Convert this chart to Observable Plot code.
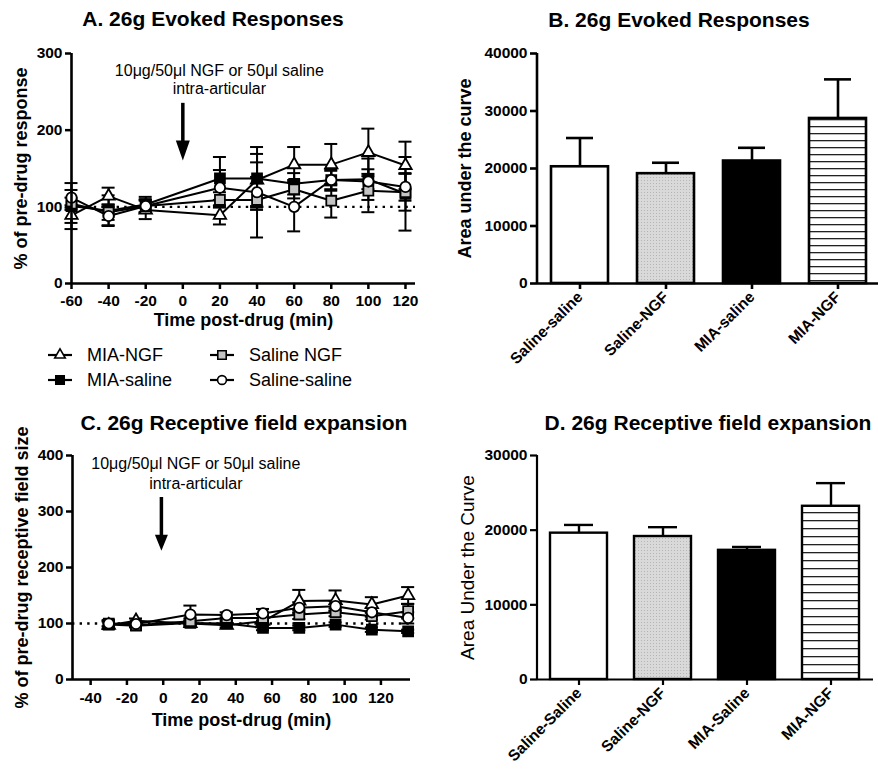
<!DOCTYPE html>
<html><head><meta charset="utf-8">
<script src="https://cdn.jsdelivr.net/npm/d3@7"></script>
<script src="https://cdn.jsdelivr.net/npm/@observablehq/plot@0.6"></script>
<style>
body{margin:0;background:#fff;overflow:hidden;font-family:"Liberation Sans",Arial,sans-serif;color:#000}
#root{position:relative;width:878px;height:771px;overflow:hidden;background:#fff}
.title{position:absolute;font-weight:bold;font-size:21px;line-height:21px;white-space:nowrap;transform:translateX(-50%)}
</style></head><body><div id="root"></div><script>
// ---------- data ----------
const groups = ["MIA-NGF", "MIA-saline", "Saline NGF", "Saline-saline"];

// Panel A: evoked responses (% of pre-drug response)
const timesA = [-60, -40, -20, 20, 40, 60, 80, 100, 120];
const aMiaNgf = [89, 114, 96, 89, 135, 155, 155, 171, 154];
const aMiaNgfErr = [10, 11, 12, 12, 34, 23, 27, 31, 31];
const aMiaSal = [101, 95, 103, 137, 137, 130, 135, 136, 117];
const aMiaSalErr = [30, 20, 10, 28, 41, 14, 12, 27, 48];
const aSalNgf = [104, 93, 101, 109, 109, 123, 108, 121, 119];
const aSalNgfErr = [8, 10, 9, 10, 49, 12, 22, 28, 24];
const aSalSal = [112, 88, 101, 125, 119, 100, 135, 133, 126];
const aSalSalErr = [10, 12, 8, 23, 20, 32, 14, 10, 18];

// Panel C: receptive field size (% of pre-drug)
const timesC = [-30, -15, 15, 35, 55, 75, 95, 115, 135];
const cMiaNgf = [97, 105, 100, 97, 104, 140, 141, 134, 150];
const cMiaNgfErr = [6, 4, 5, 4, 5, 20, 18, 13, 15];
const cMiaSal = [98, 96, 101, 100, 92, 92, 98, 89, 86];
const cMiaSalErr = [8, 3, 4, 3, 4, 4, 4, 4, 3];
const cSalNgf = [100, 97, 104, 110, 110, 116, 120, 113, 122];
const cSalNgfErr = [5, 3, 5, 4, 5, 8, 7, 6, 13];
const cSalSal = [100, 99, 116, 115, 118, 128, 131, 120, 110];
const cSalSalErr = [5, 4, 16, 5, 8, 10, 9, 8, 10];

// Panel B: area under the curve
const barLabelsB = ["Saline-saline", "Saline-NGF", "MIA-saline", "MIA-NGF"];
const aucB = [20300, 19100, 21300, 28700];
const aucBErr = [5000, 1900, 2300, 6800];

// Panel D: area under the curve
const barLabelsD = ["Saline-Saline", "Saline-NGF", "MIA-Saline", "MIA-NGF"];
const aucD = [19600, 19150, 17300, 23200];
const aucDErr = [1100, 1250, 450, 3100];

// tick labels
const ticksAx = [-60, -40, -20, 0, 20, 40, 60, 80, 100, 120];
const ticksAy = [0, 100, 200, 300];
const ticksCx = [-40, -20, 0, 20, 40, 60, 80, 100, 120];
const ticksCy = [0, 100, 200, 300, 400];
const ticksBy = [0, 10000, 20000, 30000, 40000];
const ticksDy = [0, 10000, 20000, 30000];

// annotation (data units)
const noteText = "10\u03bcg/50\u03bcl NGF or 50\u03bcl saline\nintra-articular";
const noteA = {x: 19.7, y: 266, from: 235, to: 160.4, at: 0};
const noteC = {x: 18, y: 370, from: 325, to: 230, at: -1};
const baselinePct = [100];

// ---------- helpers ----------
const FONT = "Liberation Sans, Arial, sans-serif";
const root = document.getElementById("root");
const fmt = d => String(d);
const styles = {
  "MIA-NGF": {symbol: "triangle", fill: "white", r: 4.6},
  "MIA-saline": {symbol: "square", fill: "black", r: 5.6},
  "Saline NGF": {symbol: "square", fill: "#c4c4c4", r: 5.6},
  "Saline-saline": {symbol: "circle", fill: "white", r: 5.2}
};
function place(el, left, top) {
  el.style.position = "absolute"; el.style.left = left + "px"; el.style.top = top + "px";
  root.appendChild(el);
}
function title(text, cx, top) {
  const d = document.createElement("div");
  d.className = "title"; d.textContent = text;
  d.style.left = cx + "px"; d.style.top = top + "px";
  root.appendChild(d);
}
function headSymbol(w, h) {
  return {draw(ctx) { ctx.moveTo(0, 0); ctx.lineTo(-w / 2, -h); ctx.lineTo(w / 2, -h); ctx.closePath(); }};
}
function rowsFor(times, vals, errs, g) {
  return times.map((t, i) => ({t, v: vals[i], lo: vals[i] - errs[i], hi: vals[i] + errs[i], g}));
}

function linePanel(cfg) {
  const rows = cfg.series.flatMap(s => rowsFor(cfg.times, s.vals, s.errs, s.name));
  const cap = cfg.cap;
  const marks = [
    Plot.ruleY(baselinePct, {stroke: "black", strokeWidth: 2.4, strokeDasharray: "2.4,5.2"}),
    Plot.ruleX(rows, {x: "t", y1: "lo", y2: "hi", strokeWidth: 2}),
    Plot.ruleY(rows, {y: "hi", x1: d => d.t - cap, x2: d => d.t + cap, strokeWidth: 2}),
    Plot.ruleY(rows, {y: "lo", x1: d => d.t - cap, x2: d => d.t + cap, strokeWidth: 2}),
    Plot.line(rows, {x: "t", y: "v", z: "g", stroke: "black", strokeWidth: 2}),
    ...groups.map(g => Plot.dot(rows.filter(r => r.g === g), {
      x: "t", y: "v", symbol: styles[g].symbol, r: styles[g].r, fill: styles[g].fill, stroke: "black", strokeWidth: 1.8
    })),
    Plot.ruleX([cfg.xDomain[0]], {strokeWidth: 2.6}),
    Plot.ruleY([0], {strokeWidth: 2.6}),
    Plot.axisY({ticks: cfg.yTicks, tickFormat: fmt, tickSize: 6, tickPadding: 3, strokeWidth: 2.5, fontSize: 15.5, fontWeight: "bold", label: null}),
    Plot.axisX({ticks: cfg.xTicks, tickFormat: fmt, tickSize: 6, tickPadding: cfg.xPad, strokeWidth: 2.5, fontSize: 15.5, fontWeight: "bold", label: null}),
    Plot.text([cfg.ylabel], {text: d => d, frameAnchor: "left", textAnchor: "middle", rotate: -90, dx: cfg.ylabelDx, fontSize: 18, fontWeight: "bold"}),
    Plot.text([cfg.xlabel], {text: d => d, frameAnchor: "bottom", textAnchor: "middle", dy: cfg.xlabelDy, fontSize: 18, fontWeight: "bold"}),
    Plot.text([cfg.note], {x: "x", y: "y", text: () => noteText, fontSize: 16, lineHeight: cfg.noteLH}),
    Plot.ruleX([cfg.note], {x: "at", y1: "from", y2: d => d.to + cfg.shaftGap, strokeWidth: 3.5}),
    Plot.dot([cfg.note], {x: "at", y: "to", symbol: headSymbol(cfg.headW, cfg.headH), fill: "black", stroke: "none"})
  ];
  return Plot.plot({
    width: cfg.width, height: cfg.height,
    marginLeft: cfg.ml, marginRight: cfg.mr, marginTop: cfg.mt, marginBottom: cfg.mb,
    x: {domain: cfg.xDomain},
    y: {domain: cfg.yDomain},
    style: {fontFamily: FONT, color: "black", background: "white", overflow: "visible"},
    marks
  });
}

function yAxisLine(sw) {
  return function (...args) {
    const dim = args.find(a => a && typeof a === "object" && "marginLeft" in a && "height" in a);
    const l = d3.create("svg:line")
      .attr("x1", dim.marginLeft).attr("x2", dim.marginLeft)
      .attr("y1", dim.marginTop).attr("y2", dim.height - dim.marginBottom)
      .attr("stroke", "black").attr("stroke-width", sw);
    return l.node();
  };
}

function barPanel(cfg) {
  const id = cfg.id;
  const fills = ["white", `url(#stip${id})`, "black", `url(#stripe${id})`];
  const rows = cfg.labels.map((l, i) => ({label: l, v: cfg.vals[i], hi: cfg.vals[i] + cfg.errs[i], fill: fills[i]}));
  const sw = cfg.sw;
  const svg = Plot.plot({
    width: cfg.width, height: cfg.height,
    marginLeft: cfg.ml, marginRight: cfg.mr, marginTop: cfg.mt, marginBottom: cfg.mb,
    x: {domain: cfg.labels, paddingInner: cfg.pi, paddingOuter: cfg.pi / 2},
    y: {domain: cfg.yDomain},
    color: {type: "identity"},
    style: {fontFamily: FONT, color: "black", background: "white", overflow: "visible"},
    marks: [
      Plot.ruleX(rows, {x: "label", y1: "v", y2: "hi", strokeWidth: sw}),
      Plot.tickY(rows, {x: "label", y: "hi", insetLeft: cfg.capInset, insetRight: cfg.capInset, strokeWidth: sw}),
      Plot.barY(rows, {x: "label", y: "v", fill: "fill", stroke: "black", strokeWidth: sw}),
      Plot.ruleY([0], {strokeWidth: cfg.axisSw}),
      yAxisLine(cfg.axisSw),
      Plot.axisY({ticks: cfg.yTicks, tickFormat: fmt, tickSize: 7, tickPadding: 3, strokeWidth: cfg.axisSw, fontSize: 15.5, fontWeight: "bold", label: null}),
      Plot.axisX({tickRotate: -45, tickSize: 6, tickPadding: 5, strokeWidth: cfg.axisSw, fontSize: 15.5, fontWeight: "bold", label: null}),
      Plot.text([cfg.ylabel], {text: d => d, frameAnchor: "left", textAnchor: "middle", rotate: -90, dx: cfg.ylabelDx, fontSize: cfg.ylabelSize, fontWeight: cfg.ylabelWeight})
    ]
  });
  const defs = d3.select(svg).insert("defs", ":first-child");
  const st = defs.append("pattern").attr("id", `stip${id}`).attr("patternUnits", "userSpaceOnUse").attr("width", 3).attr("height", 3);
  st.append("rect").attr("width", 3).attr("height", 3).attr("fill", "#d9d9d9");
  st.append("rect").attr("width", 1).attr("height", 1).attr("fill", "#b5b5b5");
  const sp = defs.append("pattern").attr("id", `stripe${id}`).attr("patternUnits", "userSpaceOnUse").attr("width", 10).attr("height", cfg.stripe);
  sp.append("rect").attr("width", 10).attr("height", cfg.stripe).attr("fill", "white");
  sp.append("rect").attr("width", 10).attr("height", 1.3).attr("fill", "#222");
  return svg;
}

// ---------- Panel A ----------
const seriesA = [
  {name: "Saline NGF", vals: aSalNgf, errs: aSalNgfErr},
  {name: "Saline-saline", vals: aSalSal, errs: aSalSalErr},
  {name: "MIA-saline", vals: aMiaSal, errs: aMiaSalErr},
  {name: "MIA-NGF", vals: aMiaNgf, errs: aMiaNgfErr}
];
place(linePanel({
  width: 440, height: 340, ml: 71, mr: 25, mt: 53, mb: 57,
  xDomain: [-60, 125.4], yDomain: [0, 300], xTicks: ticksAx, yTicks: ticksAy,
  times: timesA, series: seriesA, cap: 3.5, xPad: 5,
  ylabel: "% of pre-drug response", ylabelDx: -50,
  xlabel: "Time post-drug (min)", xlabelDy: 42,
  note: noteA, noteLH: 1.12, headW: 14, headH: 20, shaftGap: 14
}), 0, 0);
title("A. 26g Evoked Responses", 213, 8);

// ---------- Panel C ----------
const seriesC = [
  {name: "MIA-saline", vals: cMiaSal, errs: cMiaSalErr},
  {name: "Saline NGF", vals: cSalNgf, errs: cSalNgfErr},
  {name: "Saline-saline", vals: cSalSal, errs: cSalSalErr},
  {name: "MIA-NGF", vals: cMiaNgf, errs: cMiaNgfErr}
];
place(linePanel({
  width: 440, height: 371, ml: 72, mr: 30, mt: 55, mb: 92,
  xDomain: [-50, 136.3], yDomain: [0, 400], xTicks: ticksCx, yTicks: ticksCy,
  times: timesC, series: seriesC, cap: 3.6, xPad: 6,
  ylabel: "% of pre-drug receptive field size", ylabelDx: -50,
  xlabel: "Time post-drug (min)", xlabelDy: 46,
  note: noteC, noteLH: 1.25, headW: 13, headH: 16, shaftGap: 15
}), 0, 400);
title("C. 26g Receptive field expansion", 244, 412);

// ---------- Panel B ----------
place(barPanel({
  id: "B", width: 442, height: 390, ml: 97, mr: 1, mt: 53, mb: 107,
  labels: barLabelsB, vals: aucB, errs: aucBErr, yDomain: [0, 40000], yTicks: ticksBy,
  pi: 0.337, capInset: 15, sw: 2.6, axisSw: 2.6, stripe: 7,
  ylabel: "Area under the curve", ylabelDx: -72, ylabelSize: 18, ylabelWeight: "bold"
}), 440, 0);
title("B. 26g Evoked Responses", 679, 9);

// ---------- Panel D ----------
place(barPanel({
  id: "D", width: 442, height: 371, ml: 97, mr: 9, mt: 55, mb: 92,
  labels: barLabelsD, vals: aucD, errs: aucDErr, yDomain: [0, 30000], yTicks: ticksDy,
  pi: 0.32, capInset: 14, sw: 2.4, axisSw: 2.2, stripe: 8,
  ylabel: "Area Under the Curve", ylabelDx: -70, ylabelSize: 19, ylabelWeight: "normal"
}), 440, 400);
title("D. 26g Receptive field expansion", 708, 412);

// ---------- Legend ----------
(function legend() {
  const svg = d3.create("svg").attr("width", 440).attr("height", 60)
    .style("font-family", FONT);
  groups.forEach((g, i) => {
    const col = Math.floor(i / 2), row = i % 2;
    const x0 = col === 0 ? 48 : 210, y = 15 + row * 25;
    const gEl = svg.append("g").attr("transform", `translate(${x0},${y})`);
    gEl.append("line").attr("x1", 0).attr("x2", 24).attr("stroke", "black").attr("stroke-width", 2.2);
    const s = styles[g];
    const type = s.symbol === "triangle" ? d3.symbolTriangle : s.symbol === "square" ? d3.symbolSquare : d3.symbolCircle;
    const r = s.r * 0.85;
    gEl.append("path").attr("transform", "translate(12,0)").attr("d", d3.symbol(type, r * r * Math.PI)())
      .attr("fill", s.fill).attr("stroke", "black").attr("stroke-width", 1.6);
    gEl.append("text").attr("x", 39).attr("dy", "0.35em").attr("font-size", 18).text(g);
  });
  place(svg.node(), 0, 340);
})();
</script></body></html>
